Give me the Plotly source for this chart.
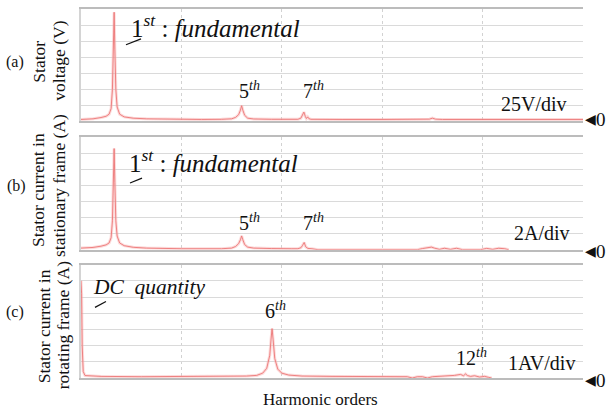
import plotly.graph_objects as go

# ---------------- data (x in Hz-like harmonic axis, y in divisions) ----------------
xa = [0, 12, 20, 25, 28, 30, 31.3, 32.3, 33, 33.7, 34.7, 36, 38.5, 43, 52, 65, 90, 120, 140, 150,
      154, 157, 158.8, 160, 161.2, 163, 166, 172, 190, 210, 216, 219, 220.5, 222, 223.5, 224.5,
      225.8, 227, 229, 235, 260, 300, 340, 347, 350, 353, 360, 400, 440, 470, 500]
ya = [0.12, 0.16, 0.24, 0.32, 0.45, 0.8, 2.0, 4.5, 6.8, 4.5, 2.0, 0.9, 0.45, 0.28, 0.2, 0.16, 0.13, 0.12, 0.13, 0.16,
      0.25, 0.42, 0.7, 0.98, 0.7, 0.38, 0.2, 0.15, 0.13, 0.12, 0.13, 0.2, 0.35, 0.58, 0.3, 0.18,
      0.28, 0.17, 0.13, 0.12, 0.12, 0.12, 0.12, 0.14, 0.2, 0.14, 0.12, 0.13, 0.12, 0.13, 0.12]

xb = [0, 12, 20, 25, 28, 30, 31.3, 32.3, 33, 33.7, 34.7, 36, 38.5, 43, 52, 65, 80, 100, 140, 150,
      154, 157, 158.8, 160, 161.2, 163, 166, 172, 190, 200, 205, 210, 216, 219, 220.5, 222.3, 223.8,
      226, 230, 236, 300, 335, 340, 345, 349, 352, 357, 362, 368, 374, 380, 398, 404, 410, 416, 422, 426]
yb = [0.1, 0.14, 0.22, 0.3, 0.42, 0.75, 1.8, 4.2, 6.3, 4.2, 1.8, 0.85, 0.42, 0.25, 0.15, 0.1, 0.08, 0.06, 0.06, 0.1,
      0.2, 0.38, 0.62, 0.86, 0.62, 0.32, 0.16, 0.1, 0.07, 0.06, 0.02, 0.06, 0.06, 0.12, 0.25, 0.45, 0.18,
      0.08, 0.06, 0.0, 0.0, 0.0, 0.07, 0.1, 0.16, 0.1, 0.02, 0.09, 0.02, 0.09, 0.0, 0.0, 0.08, 0.02, 0.09, 0.06, 0.0]

xc = [0, 0.6, 1.2, 2.2, 4, 20, 60, 100, 140, 165, 175, 181, 185, 188, 189.3, 190.3, 191.3, 193, 196,
      200, 207, 220, 250, 290, 325, 330, 335, 340, 345, 350, 355, 365, 372, 378, 381, 383, 385, 388, 392,
      397, 402, 406, 409]
yc = [6.0, 5.2, 2.0, 0.4, 0.15, 0.1, 0.08, 0.08, 0.09, 0.12, 0.16, 0.3, 0.6, 1.4, 2.4, 3.05, 2.4, 1.2, 0.55,
      0.3, 0.18, 0.12, 0.1, 0.08, 0.08, 0.0, 0.08, 0.08, 0.0, 0.08, 0.1, 0.12, 0.16, 0.22, 0.14, 0.25, 0.15, 0.1, 0.14,
      0.06, 0.1, 0.04, 0.0]

panels = [(xa, ya), (xb, yb), (xc, yc)]
x_range = [0, 500]
y_range = [0, 7]

# ---------------- figure ----------------
W, H = 609, 414
L, R, T, B = 81, 26, 7, 36
PW, PH = W - L - R, H - T - B


def px(x):
    return (x - L) / PW


def py(y):
    return (H - B - y) / PH


domains = [[py(120), 1.0], [py(249), py(136)], [0.0, py(264)]]

fig = go.Figure()
halo = "rgba(248,175,175,0.45)"
core = "rgb(236,118,118)"
for i, (xs, ys) in enumerate(panels):
    sfx = "" if i == 0 else str(i + 1)
    fig.add_trace(go.Scatter(x=xs, y=ys, mode="lines", line=dict(color=halo, width=3),
                             xaxis="x" + sfx, yaxis="y" + sfx, hoverinfo="skip", showlegend=False))
    fig.add_trace(go.Scatter(x=xs, y=ys, mode="lines", line=dict(color=core, width=0.9),
                             xaxis="x" + sfx, yaxis="y" + sfx, showlegend=False))

FONT = "Liberation Serif"
layout = dict(width=W, height=H, margin=dict(l=L, r=R, t=T, b=B),
              paper_bgcolor="white", plot_bgcolor="white", showlegend=False,
              font=dict(family=FONT, color="#111", size=16))
for i in range(3):
    sfx = "" if i == 0 else str(i + 1)
    layout["xaxis" + sfx] = dict(domain=[0, 1], anchor="y" + sfx, range=x_range, dtick=100, tick0=0,
                                 showgrid=True, gridcolor="#d2d2d2", griddash="dot", gridwidth=1,
                                 showticklabels=False, ticks="", zeroline=False,
                                 showline=True, mirror=True, linecolor="#bcbcbc", linewidth=2.2,
                                 fixedrange=True)
    layout["yaxis" + sfx] = dict(domain=domains[i], anchor="x" + sfx, range=y_range, dtick=1, tick0=0,
                                 showgrid=True, gridcolor="#dadada", gridwidth=1,
                                 showticklabels=False, ticks="", zeroline=False,
                                 showline=True, linecolor="#d4d4d4", linewidth=1.5, fixedrange=True)
fig.update_layout(**layout)

ann = []


def add(text, x, y, size, xanchor="center", yanchor="middle", angle=0, italic=False):
    t = f"<i>{text}</i>" if italic else text
    ann.append(dict(text=t, x=px(x), y=py(y), xref="paper", yref="paper", showarrow=False,
                    xanchor=xanchor, yanchor=yanchor, textangle=angle,
                    font=dict(family=FONT, size=size, color="#111")))


# panel letters
add("(a)", 15, 60, 16)
add("(b)", 16, 185, 16)
add("(c)", 15, 312, 16)
# y titles
add("Stator", 39, 60, 17.5, angle=-90)
add("voltage (V)", 59, 59, 17.5, angle=-90)
add("Stator current in", 38, 189, 17.5, angle=-90)
add("stationary frame (A)", 59, 185, 17.5, angle=-90)
add("Stator current in", 44, 326, 17.5, angle=-90)
add("rotating frame (A)", 63, 325, 17.5, angle=-90)

# annotations panel a
add("1<sup><i>st</i></sup> : <i>fundamental</i>", 129, 24, 25, xanchor="left")
add("5<sup><i>th</i></sup>", 249, 88, 20)
add("7<sup><i>th</i></sup>", 313, 88, 20)
add("25V/div", 534, 103, 20)
# panel b
add("1<sup><i>st</i></sup> : <i>fundamental</i>", 127, 160, 25, xanchor="left")
add("5<sup><i>th</i></sup>", 249, 221, 20)
add("7<sup><i>th</i></sup>", 313, 221, 20)
add("2A/div", 542, 232, 20)
# panel c
add("DC\u00a0\u00a0quantity", 91, 287, 21.5, xanchor="left", italic=True)
add("6<sup><i>th</i></sup>", 275, 310, 20)
add("12<sup><i>th</i></sup>", 471, 357, 20)
add("1AV/div", 541, 363, 20)
# zero markers
for yz in (118, 251, 381):
    add("\u25c0", 583, yz, 14, xanchor="left")
    add("0", 594, yz, 19, xanchor="left")
add("Harmonic orders", 320, 400, 17)

fig.update_layout(annotations=ann)

# leader lines for labels
shapes = []
for (x0, y0, x1, y1) in [(126, 43, 141, 37), (130, 182, 142, 177), (95, 307, 106, 301)]:
    shapes.append(dict(type="line", xref="paper", yref="paper", x0=px(x0), y0=py(y0), x1=px(x1), y1=py(y1),
                       line=dict(color="#111", width=1.2)))
fig.update_layout(shapes=shapes)

fig.write_html("out.html")
